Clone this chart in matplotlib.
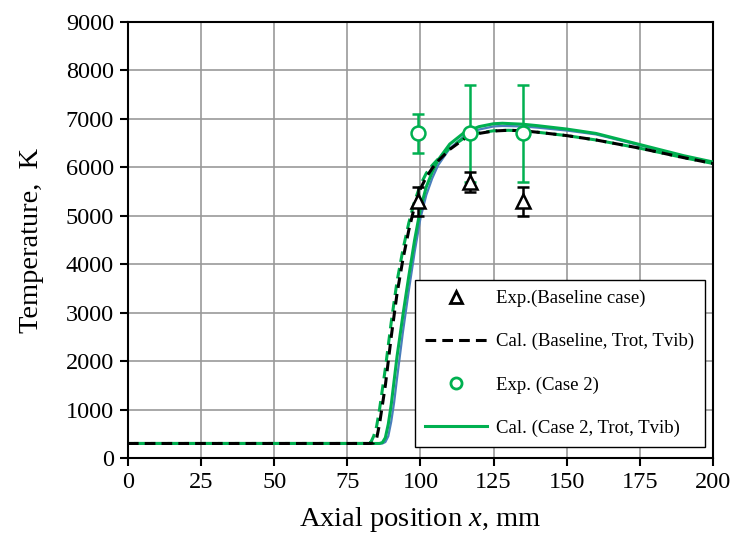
import matplotlib
matplotlib.use("Agg")
import matplotlib.pyplot as plt

plt.rcParams["font.family"] = ["Liberation Serif", "DejaVu Serif"]
plt.rcParams["mathtext.fontset"] = "custom"
plt.rcParams["mathtext.it"] = "Liberation Serif:italic"

GREEN = "#00b050"
BLUE = "#4a7ebb"

# measured points
exp_base_x = [99, 117, 135]
exp_base_t = [5300, 5700, 5300]
exp_base_err = [300, 200, 300]

exp_case2_x = [99, 117, 135]
exp_case2_t = [6700, 6700, 6700]
exp_case2_err = [400, 1000, 1000]

# calculated profiles, baseline case
base_x = [0, 80, 83, 84, 85, 86, 88, 90, 92, 94, 96, 98, 100, 102, 104, 106,
          110, 115, 120, 125, 130, 135, 140, 150, 160, 175, 190, 200]
base_trot = [300, 300, 300, 310, 400, 700, 1500, 2500, 3400, 4100, 4700, 5200,
             5560, 5800, 5980, 6130, 6370, 6590, 6700, 6750, 6765, 6755, 6725,
             6655, 6565, 6395, 6200, 6080]
base_tvib = [300, 300, 320, 450, 650, 1000, 1850, 2800, 3650, 4300, 4850, 5300,
             5640, 5880, 6040, 6170, 6400, 6610, 6710, 6755, 6765, 6755, 6725,
             6655, 6565, 6395, 6200, 6080]

# calculated profiles, case 2
case2_x = [0, 86, 87, 88, 89, 90, 91, 92, 94, 96, 98, 100, 102, 104, 106, 110,
           115, 120, 125, 128, 135, 140, 150, 160, 175, 190, 200]
case2_trot = [300, 300, 320, 420, 700, 1100, 1600, 2100, 2950, 3750, 4500, 5150,
              5600, 5900, 6150, 6480, 6720, 6840, 6900, 6910, 6890, 6860, 6790,
              6700, 6470, 6240, 6110]
case2_tvib = [300, 300, 300, 330, 450, 750, 1150, 1650, 2600, 3450, 4250, 4950,
              5430, 5770, 6040, 6390, 6650, 6780, 6845, 6855, 6845, 6820, 6760,
              6680, 6455, 6230, 6100]

fig = plt.figure(figsize=(7.31, 5.33), dpi=100)
ax = fig.add_axes([0.175, 0.1407, 0.8004, 0.818])

ax.plot(case2_x, case2_tvib, color=BLUE, lw=1.6, zorder=3)
ax.plot(case2_x, case2_trot, color=GREEN, lw=2.2, zorder=3.1)
ax.plot(base_x, base_tvib, color=GREEN, lw=2.2, linestyle=(3.5, (3.5, 2)), zorder=3.2)
ax.plot(base_x, base_trot, color="black", lw=2.2, linestyle=(0, (3.5, 2)), zorder=3.3)

ax.errorbar(exp_case2_x, exp_case2_t, yerr=exp_case2_err, fmt="o", color=GREEN,
            mfc="white", mec=GREEN, ms=10, mew=1.8, capsize=4, elinewidth=1.8,
            capthick=1.8, zorder=4)
ax.errorbar(exp_base_x, exp_base_t, yerr=exp_base_err, fmt="^", color="black",
            mfc="white", mec="black", ms=10, mew=1.8, capsize=4, elinewidth=1.8,
            capthick=1.8, zorder=5)

ax.set_xlim(0, 200)
ax.set_ylim(0, 9000)
ax.set_xticks(range(0, 201, 25))
ax.set_yticks(range(0, 9001, 1000))
ax.grid(True, color="#999999", lw=1.2)
ax.set_axisbelow(True)
for s in ax.spines.values():
    s.set_linewidth(1.5)
ax.tick_params(direction="out", length=6, width=1.5, labelsize=17.5, pad=4)

ax.set_xlabel("Axial position $x$, mm", fontsize=20.5, labelpad=9)
ax.set_ylabel("Temperature,  K", fontsize=20.5, labelpad=16)

h_eb = plt.Line2D([], [], marker="^", ls="none", mfc="white", mec="black", ms=8, mew=2)
h_eg = plt.Line2D([], [], marker="o", ls="none", mfc="white", mec=GREEN, ms=8, mew=2)
h_cb = plt.Line2D([], [], color="black", lw=2.2, ls=(0, (3.5, 2)))
h_cg = plt.Line2D([], [], color=GREEN, lw=2.2)
leg = ax.legend([h_eb, h_cb, h_eg, h_cg],
                ["Exp.(Baseline case)", "Cal. (Baseline, Trot, Tvib)",
                 "Exp. (Case 2)", "Cal. (Case 2, Trot, Tvib)"],
                loc="lower left", bbox_to_anchor=(0.49, 0.025, 0.496, 0.385),
                mode="expand", fontsize=13.5, handlelength=3.3, handletextpad=0.5,
                labelspacing=1.38, borderpad=0.55, fancybox=False, framealpha=1,
                edgecolor="black", borderaxespad=0)
leg.get_frame().set_linewidth(1.0)

fig.savefig("out.png", dpi=100)
